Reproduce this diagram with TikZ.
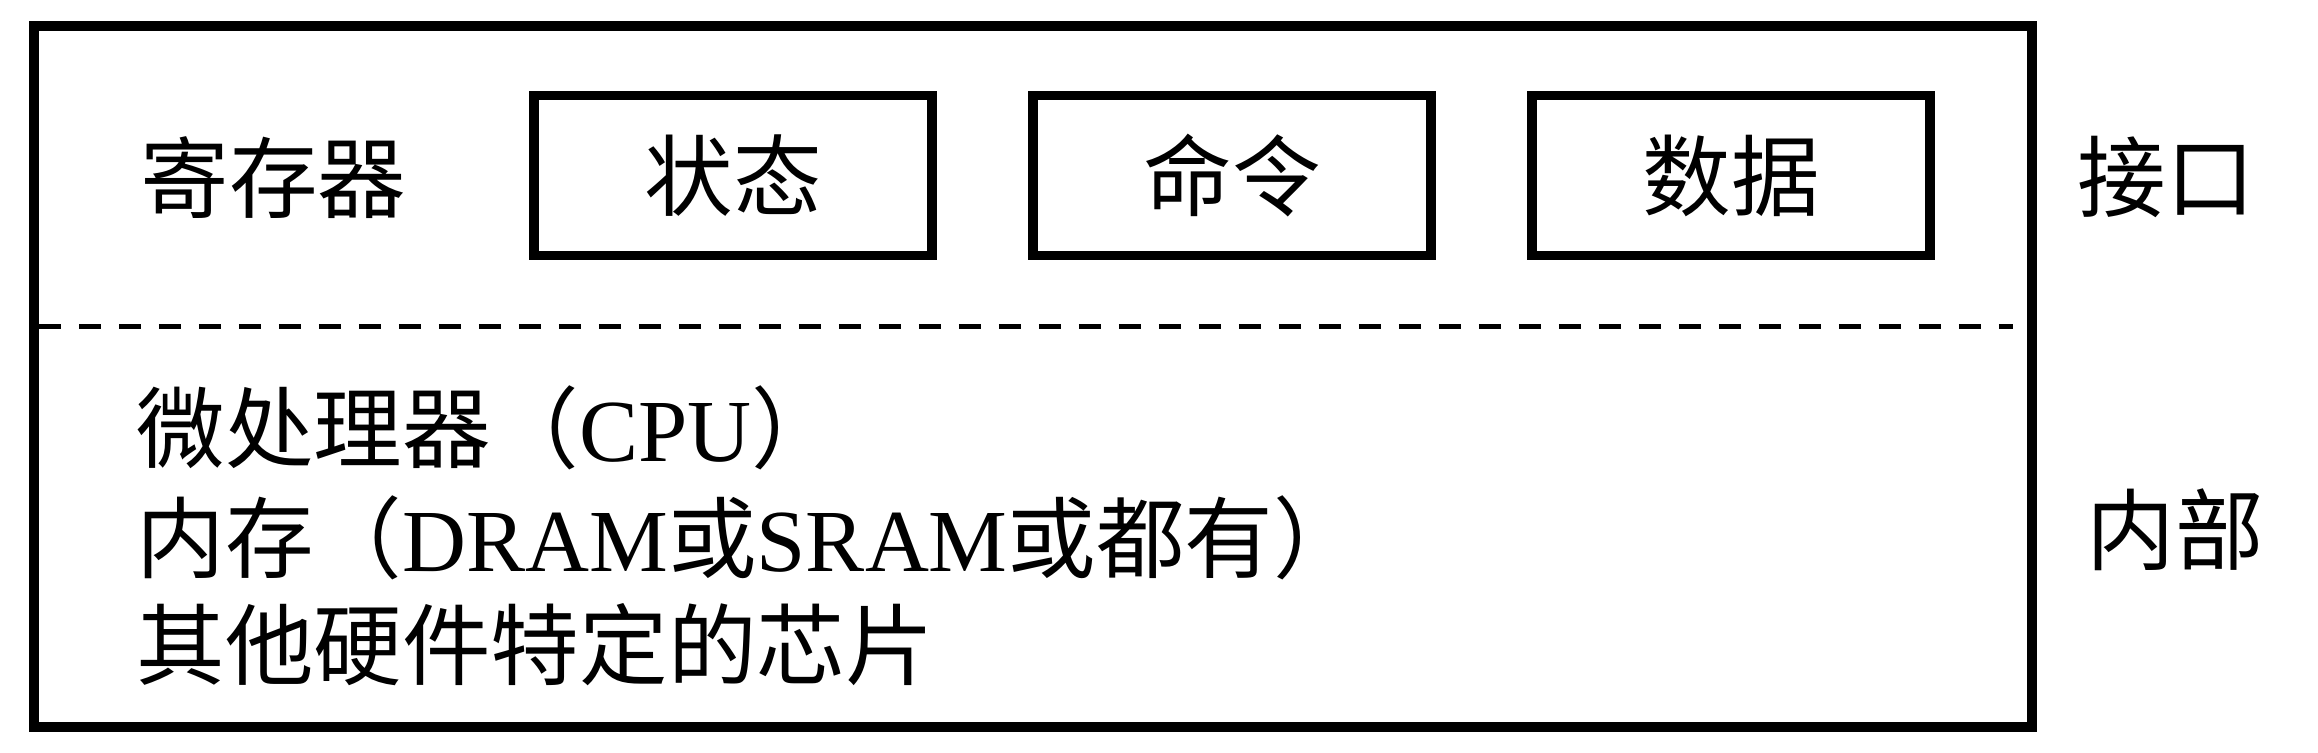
\documentclass[tikz,border=0pt]{standalone}
\usepackage{fontspec}
\setmainfont{Liberation Serif}
\newfontfamily\cjk{Noto Sans CJK SC}
\usetikzlibrary{positioning}
\tikzset{
  frame line/.style={black, line width=2.85pt},
  divider line/.style={
      black, line width=1.6pt,
      dash pattern=on 0.22cm off 0.18cm
    },
  register box/.style={
      draw, line width=2.7pt,
      minimum width=3.98cm, minimum height=1.60cm,
      inner sep=0pt, outer sep=0pt
    },
  body text/.style={
      anchor=west,
      inner sep=0pt
    }
}

\begin{document}
\begin{tikzpicture}[font=\fontsize{25.2}{30}\selectfont\cjk]

  \useasboundingbox (0,0) rectangle (23.18,7.52);

  % ------------------------------------------------------------------
  % Outer frame, split into interface part and inner part.
  % ------------------------------------------------------------------
  \draw[frame line] (0.34,0.25) rectangle (20.32,7.26);

  \coordinate (splitL) at (0.39,4.255);
  \coordinate (splitR) at (20.13,4.255);
  \draw[divider line] (splitL) -- (splitR);

  % ------------------------------------------------------------------
  % Registers row.
  % ------------------------------------------------------------------
  \node[body text] (reglabel) at (1.40,5.74) {寄存器};

  \node[register box] (status) at (7.33,5.765) {状态};
  \node[register box, right=1.01cm of status] (command) {命令};
  \node[register box, right=1.01cm of command] (data) {数据};

  \node (iface) at (21.66,5.75) {接口};

  % ------------------------------------------------------------------
  % Inner hardware.
  % ------------------------------------------------------------------
  \node[body text] (cpu) at (1.36,3.24) {微处理器（{\rmfamily CPU}）};
  \node[body text] (memory) at (1.36,2.14)
  {内存（{\rmfamily DRAM}或{\rmfamily SRAM}或都有）};
  \node[body text] (chips) at (1.36,1.07) {其他硬件特定的芯片};

  \node (inner) at (21.75,2.22) {内部};

\end{tikzpicture}
\end{document}
